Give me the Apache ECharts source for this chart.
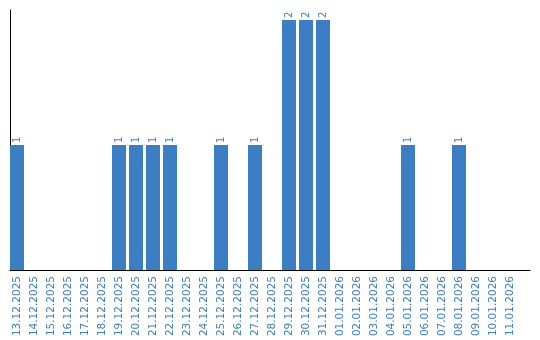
<!DOCTYPE html>
<html><head><meta charset="utf-8">
<script src="https://cdn.jsdelivr.net/npm/echarts@6/dist/echarts.min.js"></script>
<style>html,body{margin:0;padding:0;background:#fff}#c{width:540px;height:340px}</style>
</head><body><div id="c"></div>
<script>
const categories = ['13.12.2025','14.12.2025','15.12.2025','16.12.2025','17.12.2025','18.12.2025','19.12.2025','20.12.2025','21.12.2025','22.12.2025','23.12.2025','24.12.2025','25.12.2025','26.12.2025','27.12.2025','28.12.2025','29.12.2025','30.12.2025','31.12.2025','01.01.2026','02.01.2026','03.01.2026','04.01.2026','05.01.2026','06.01.2026','07.01.2026','08.01.2026','09.01.2026','10.01.2026','11.01.2026'];
const counts = [1,0,0,0,0,0,1,1,1,1,0,0,1,0,1,0,2,2,2,0,0,0,0,1,0,0,1,0,0,0];
const yMax = 2.08;

const blue = '#3b7ec3';
const chart = echarts.init(document.getElementById('c'), null, {renderer:'canvas'});
chart.setOption({
  animation:false,
  grid:[
    {left:10, right:10, top:10, bottom:70},
    {left:8.5, width:510, top:10, bottom:70}
  ],
  xAxis:[
    {gridIndex:0, type:'value', min:0, max:1, axisLine:{show:true, lineStyle:{color:'#000', width:1}}, axisTick:{show:false}, axisLabel:{show:false}, splitLine:{show:false}},
    {gridIndex:1, type:'category', data:categories, axisLine:{show:false}, axisTick:{show:false},
     axisLabel:{rotate:90, interval:0, margin:6, color:blue, fontFamily:'DejaVu Sans', fontSize:10.5}}
  ],
  yAxis:[
    {gridIndex:0, type:'value', min:0, max:1, axisLine:{show:true, lineStyle:{color:'#000', width:1}}, axisTick:{show:false}, axisLabel:{show:false}, splitLine:{show:false}},
    {gridIndex:1, type:'value', min:0, max:yMax, show:false}
  ],
  series:[{
    type:'bar', xAxisIndex:1, yAxisIndex:1,
    data:counts.map(v => v === 0 ? null : v),
    barWidth:14,
    itemStyle:{color:blue},
    label:{show:true, position:'top', rotate:90, align:'left', verticalAlign:'middle', distance:2,
      color:blue, fontFamily:'DejaVu Sans', fontSize:10}
  }]
});
</script></body></html>
